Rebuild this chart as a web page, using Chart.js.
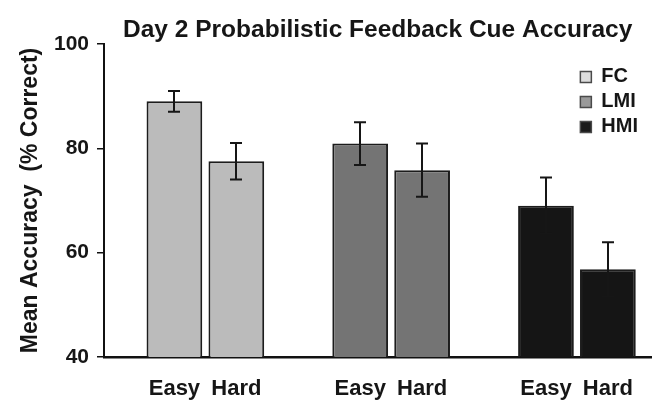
<!DOCTYPE html>
<html>
<head>
<meta charset="utf-8">
<script src="https://cdn.jsdelivr.net/npm/chart.js@4/dist/chart.umd.min.js"></script>
<style>
  html, body { margin: 0; padding: 0; background: #ffffff; }
  #wrap { width: 652px; height: 402px; }
</style>
</head>
<body>
<div id="wrap"><canvas id="chart" width="652" height="402"></canvas></div>
<script>
// Groups, conditions and per-group means / error half-widths (% correct)
const groups = ['FC', 'LMI', 'HMI'];
const conditions = ['Easy', 'Hard'];
const fcMeans = [89.0, 77.5];
const fcErrors = [2.0, 3.5];
const lmiMeans = [80.9, 75.8];
const lmiErrors = [4.1, 5.1];
const hmiMeans = [69.0, 56.8];
const hmiErrors = [5.4, 5.2];
const yTickValues = [40, 60, 80, 100];

const barFills = ['#bbbbbb', '#747474', '#151515'];
const swatchFills = ['#dcdcdc', '#9a9a9a', '#1a1a1a'];
const FONT = "'Liberation Sans', Arial, Helvetica, sans-serif";
const INK = '#161616';

const meansByGroup = [fcMeans, lmiMeans, hmiMeans];
const errorsByGroup = [fcErrors, lmiErrors, hmiErrors];

// Each group occupies three slots on the x axis: Easy, Hard, then a gap
const slot = (g, c) => g * (conditions.length + 1) + c;
const slotPositions = [];
groups.forEach((g, gi) => conditions.forEach((c, ci) => slotPositions.push(slot(gi, ci))));

const datasets = groups.map((name, gi) => ({
  label: name,
  data: meansByGroup[gi].map((v, ci) => ({ x: slot(gi, ci), y: v })),
  errors: errorsByGroup[gi],
  backgroundColor: barFills[gi],
  borderColor: '#1c1c1c',
  borderWidth: 2,
  borderSkipped: false,
  grouped: false,
  categoryPercentage: 1,
  barPercentage: 0.9
}));

// Vertical error bars with caps at both ends
const errorBars = {
  id: 'errorBars',
  afterDatasetsDraw(chart) {
    const { ctx } = chart;
    const y = chart.scales.y;
    ctx.save();
    ctx.strokeStyle = INK;
    ctx.lineWidth = 2;
    chart.data.datasets.forEach((ds, i) => {
      const meta = chart.getDatasetMeta(i);
      meta.data.forEach((bar, j) => {
        const m = ds.data[j].y, e = ds.errors[j];
        const top = y.getPixelForValue(m + e);
        const bot = y.getPixelForValue(m - e);
        const x = Math.round(bar.x);
        const cap = 6;
        ctx.beginPath();
        ctx.moveTo(x, top); ctx.lineTo(x, bot);
        ctx.moveTo(x - cap, top); ctx.lineTo(x + cap, top);
        ctx.moveTo(x - cap, bot); ctx.lineTo(x + cap, bot);
        ctx.stroke();
      });
    });
    ctx.restore();
  }
};

// Places the legend column in the upper right corner of the plot area
const legendCorner = {
  id: 'legendCorner',
  afterLayout(chart) {
    const lg = chart.legend;
    if (!lg) return;
    const a = chart.chartArea;
    lg.left = a.right - 76;
    lg.top = a.top + 18;
    lg.right = lg.left + lg.width;
    lg.bottom = lg.top + lg.height;
  }
};

new Chart(document.getElementById('chart'), {
  type: 'bar',
  data: { datasets },
  plugins: [errorBars, legendCorner],
  options: {
    responsive: false,
    animation: false,
    devicePixelRatio: 1,
    layout: { padding: { left: 0, right: 0, top: 0, bottom: 0 } },
    plugins: {
      tooltip: { enabled: false },
      title: {
        display: true,
        text: 'Day 2 Probabilistic Feedback Cue Accuracy',
        fullSize: false,
        color: INK,
        font: { family: FONT, size: 24.5, weight: 'bold', lineHeight: 1.1 },
        padding: { top: 17, bottom: 0 }
      },
      legend: {
        display: true,
        position: 'chartArea',
        align: 'start',
        labels: {
          boxWidth: 11,
          boxHeight: 11,
          padding: 5,
          color: INK,
          font: { family: FONT, size: 20, weight: 'bold' },
          generateLabels: () => groups.map((g, i) => ({
            text: g,
            fillStyle: swatchFills[i],
            strokeStyle: '#4a4a4a',
            lineWidth: 1.5,
            hidden: false,
            datasetIndex: i,
            fontColor: INK
          }))
        }
      }
    },
    scales: {
      x: {
        type: 'linear',
        offset: false,
        bounds: 'data',
        min: -1.137,
        max: 7.702,
        grid: { display: false, drawTicks: false },
        border: { display: true, color: '#111111', width: 2.5 },
        afterBuildTicks: (scale) => { scale.ticks = slotPositions.map(v => ({ value: v })); },
        afterFit: (scale) => { scale.height = 45; },
        ticks: {
          autoSkip: false,
          maxRotation: 0,
          padding: 19,
          color: INK,
          font: { family: FONT, size: 22, weight: 'bold' },
          callback: (value) => conditions[value % (conditions.length + 1)]
        }
      },
      y: {
        min: 40,
        max: 100,
        afterBuildTicks: (scale) => { scale.ticks = yTickValues.map(v => ({ value: v })); },
        afterFit: (scale) => { scale.width = 104; },
        grid: {
          display: true,
          drawOnChartArea: false,
          drawTicks: true,
          tickLength: 7,
          color: '#111111',
          lineWidth: 1.5
        },
        border: { display: true, color: '#111111', width: 2 },
        ticks: {
          padding: 8,
          color: INK,
          font: { family: FONT, size: 21, weight: 'bold' }
        },
        title: {
          display: true,
          text: 'Mean Accuracy  (% Correct)',
          color: INK,
          font: { family: FONT, size: 23, weight: 'bold', lineHeight: 1.2 },
          padding: { top: 17, bottom: 0 }
        }
      }
    }
  }
});
</script>
</body>
</html>
